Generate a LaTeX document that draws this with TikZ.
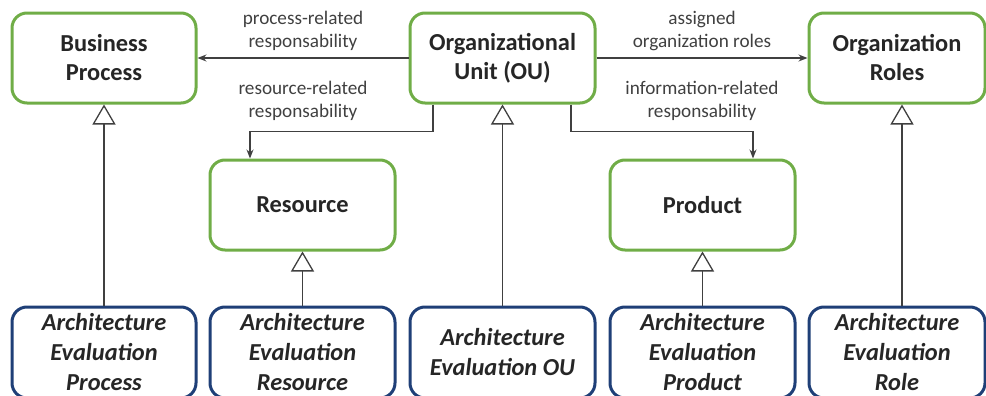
\documentclass[tikz,border=0pt]{standalone}
\usepackage{fontspec}
\setmainfont{Carlito}
\usepackage{tikz}
\usetikzlibrary{arrows.meta,positioning}
\definecolor{boxgreen}{HTML}{70AD47}
\definecolor{boxblue}{HTML}{1F3F77}
\definecolor{ink}{HTML}{262626}
\definecolor{wire}{HTML}{404040}
\tikzset{
  concept/.style={draw=boxgreen, line width=1.5pt, rounded corners=7.5pt, minimum width=92pt, minimum height=45pt, align=center, text=ink, font=\fontsize{12.2}{14.5}\selectfont\bfseries},
  evalbox/.style={draw=boxblue, line width=1.5pt, rounded corners=7.5pt, minimum width=92.5pt, minimum height=45.5pt, align=center, text=ink, font=\fontsize{12.2}{15}\selectfont\bfseries\itshape},
  flow/.style={draw=wire, line width=0.65pt, -{Stealth[length=4.5pt,width=3.5pt]}},
  inherit/.style={draw=wire, line width=0.65pt, -{Triangle[open,length=10pt,width=11.5pt,fill=white]}},
  lab/.style={text=wire, align=center, font=\fontsize{9.6}{11.5}\selectfont},
}
\begin{document}
\begin{tikzpicture}[x=0.5pt, y=-0.5pt]
  \useasboundingbox (0,0) rectangle (986,396);

  % top row
  \node[concept] (bp) at (104,58) {Business\\Process};
  \node[concept, minimum width=92.5pt] (ou) at (502.5,58) {Organizational\\Unit (OU)};
  \node[concept, minimum width=88pt] (roles) at (897,58) {Organization\\Roles};

  % middle row
  \node[concept, minimum width=92.5pt] (res) at (302.5,205) {Resource};
  \node[concept, minimum width=92.5pt] (prod) at (702.5,205) {Product};

  % evaluation row (cut off at the bottom)
  \node[evalbox, minimum width=92pt] (aeproc) at (104,352.5) {Architecture\\Evaluation\\Process};
  \node[evalbox] (aeres) at (302.5,352.5) {Architecture\\Evaluation\\Resource};
  \node[evalbox] (aeou) at (502.5,352.5) {Architecture\\Evaluation OU};
  \node[evalbox] (aeprod) at (702.5,352.5) {Architecture\\Evaluation\\Product};
  \node[evalbox, minimum width=88pt] (aerole) at (897,352.5) {Architecture\\Evaluation\\Role};

  % responsibilities
  \draw[flow] (ou.west) -- node[lab, above] {process-related\\responsability} (bp.east);
  \draw[flow] (ou.east) -- node[lab, above] {assigned\\organization roles} (roles.west);
  \draw[flow] ([xshift=-34.75pt]ou.south) -- ++(0,27) -| ([xshift=-26.25pt]res.north);
  \draw[flow] ([xshift=34.25pt]ou.south) -- ++(0,27) -| ([xshift=25.25pt]prod.north);
  \node[lab] (reslab) at (303,101) {resource-related\\responsability};
  \node[lab] (infolab) at (702,101) {information-related\\responsability};

  % specialisation
  \draw[inherit] (aeproc) -- (bp);
  \draw[inherit] (aeres) -- (res);
  \draw[inherit] (aeou) -- (ou);
  \draw[inherit] (aeprod) -- (prod);
  \draw[inherit] ([xshift=2.5pt]aerole.north) -- ([xshift=2.5pt]roles.south);

\end{tikzpicture}
\end{document}
